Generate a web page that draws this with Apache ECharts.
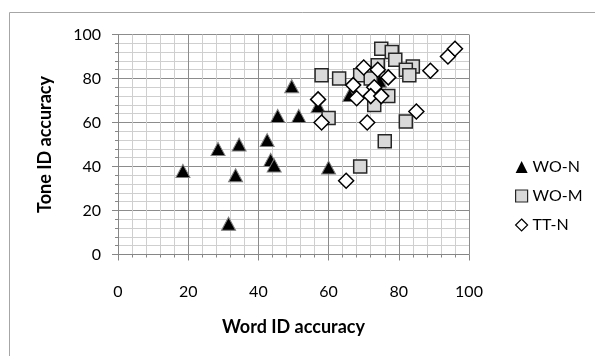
<!DOCTYPE html>
<html>
<head>
<meta charset="utf-8">
<script src="https://cdn.jsdelivr.net/npm/echarts@6/dist/echarts.min.js"></script>
<style>
html,body{margin:0;padding:0;background:#fff;}
#chart{width:595px;height:356px;}
</style>
</head>
<body>
<div id="chart"></div>
<script>
// Data
const seriesNames = ["WO-N", "WO-M", "TT-N"];
const woN_x = [18.5, 28.5, 34.5, 33.5, 31.5, 42.5, 43.5, 44.5, 45.5, 49.5, 51.5, 60, 57, 66, 74.5];
const woN_y = [38, 48, 50, 36, 14, 52, 43, 40.5, 63, 76.5, 63, 39.5, 67.5, 72.5, 79];
const woM_x = [58, 63, 60, 69, 75, 78, 79, 69, 74, 72, 77, 73, 76, 82, 84, 82, 83];
const woM_y = [81.5, 80, 62, 40, 93.5, 92, 88.5, 81.5, 86, 80, 72, 68, 51.5, 60.5, 85.5, 84, 81.5];
const ttN_x = [70, 74, 77, 67, 73, 72, 75, 68, 57, 58, 71, 85, 89, 94, 96, 65];
const ttN_y = [85, 84, 80.5, 77, 76, 72, 72, 71, 70.5, 60, 60, 65, 83.5, 90, 93.5, 33.5];
const xTicks = [0, 20, 40, 60, 80, 100];
const yTicks = [0, 20, 40, 60, 80, 100];
const xTitle = "Word ID accuracy";
const yTitle = "Tone ID accuracy";

const pairs = (xs, ys) => xs.map((x, i) => [x, ys[i]]);
const FONT = "Lato, 'Open Sans', sans-serif";

const chart = echarts.init(document.getElementById('chart'), null, {renderer: 'canvas'});

const axisCommon = {
  min: 0, max: 100, interval: 20,
  axisLine: {show: true, onZero: false, lineStyle: {color: '#868686', width: 1}},
  axisTick: {show: true, inside: false, length: 6, lineStyle: {color: '#868686'}},
  minorTick: {show: true, splitNumber: 5, length: 3, lineStyle: {color: '#868686'}},
  splitLine: {show: true, lineStyle: {color: '#8c8c8c', width: 1}},
  minorSplitLine: {show: true, lineStyle: {color: '#cfcfcf', width: 1}},
  axisLabel: {color: '#000', fontFamily: FONT, fontSize: 16}
};

chart.setOption({
  animation: false,
  backgroundColor: '#fff',
  graphic: [{
    type: 'rect', shape: {x: 9.5, y: 12.5, width: 600, height: 360},
    style: {fill: 'none', stroke: '#a6a6a6', lineWidth: 1}, silent: true, z: -10
  }],
  grid: {left: 118, right: 126, top: 34.5, bottom: 101.5, containLabel: false},
  legend: {
    orient: 'vertical', left: 510, top: 153, itemGap: 11,
    itemWidth: 12, itemHeight: 12,
    textStyle: {fontFamily: FONT, fontSize: 16, lineHeight: 18, color: '#000'},
    data: [
      {name: seriesNames[0], icon: 'triangle', itemStyle: {color: '#000', borderColor: '#000', borderWidth: 0}},
      {name: seriesNames[1], icon: 'rect', itemStyle: {color: '#d9d9d9', borderColor: '#262626', borderWidth: 1.2}},
      {name: seriesNames[2], icon: 'diamond', itemStyle: {color: '#fff', borderColor: '#000', borderWidth: 1.2}}
    ]
  },
  xAxis: Object.assign({}, axisCommon, {
    type: 'value', position: 'bottom',
    axisLabel: Object.assign({}, axisCommon.axisLabel, {margin: 29,
      formatter: v => xTicks.includes(v) ? String(v) : ''}),
    name: xTitle, nameLocation: 'middle', nameGap: 64,
    nameTextStyle: {fontFamily: FONT, fontSize: 18, fontWeight: 'bold', color: '#000'}
  }),
  yAxis: Object.assign({}, axisCommon, {
    type: 'value',
    axisLabel: Object.assign({}, axisCommon.axisLabel, {margin: 17,
      formatter: v => yTicks.includes(v) ? String(v) : ''}),
    name: yTitle, nameLocation: 'middle', nameGap: 64, nameRotate: 90,
    nameTextStyle: {fontFamily: FONT, fontSize: 18, fontWeight: 'bold', color: '#000'}
  }),
  series: [
    {
      name: seriesNames[0], type: 'scatter', symbol: 'triangle', symbolSize: [14, 13],
      data: pairs(woN_x, woN_y), z: 2,
      itemStyle: {color: '#000', borderColor: '#7f7f7f', borderWidth: 1, opacity: 1}
    },
    {
      name: seriesNames[1], type: 'scatter', symbol: 'rect', symbolSize: 13,
      data: pairs(woM_x, woM_y), z: 3,
      itemStyle: {color: '#d9d9d9', borderColor: '#262626', borderWidth: 1.5, opacity: 1}
    },
    {
      name: seriesNames[2], type: 'scatter', symbol: 'diamond', symbolSize: 15,
      data: pairs(ttN_x, ttN_y), z: 4,
      itemStyle: {color: '#fff', borderColor: '#000', borderWidth: 1.5, opacity: 1}
    }
  ]
});
</script>
</body>
</html>
